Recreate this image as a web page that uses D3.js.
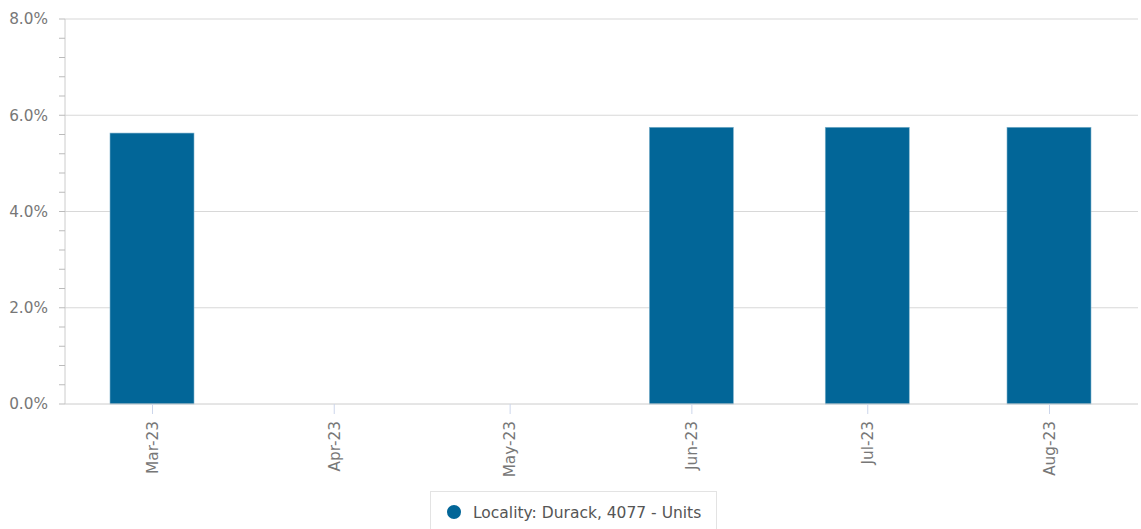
<!DOCTYPE html>
<html><head><meta charset="utf-8">
<script src="https://cdn.jsdelivr.net/npm/d3@7"></script>
<style>body{margin:0;background:#fff;font-family:"DejaVu Sans",sans-serif}</style>
</head><body><svg id="c" width="1141" height="529"></svg>
<script>
const months = ["2023-03-01","2023-04-01","2023-05-01","2023-06-01","2023-07-01","2023-08-01"];
const values = [5.63, null, null, 5.75, 5.75, 5.75];
const yTicks = [0, 2, 4, 6, 8];
const seriesName = "Locality: Durack, 4077 - Units";

const svg = d3.select("#c");
const parse = d3.utcParse("%Y-%m-%d");
const dates = months.map(parse);
const L = 65, R = 1138, T = 19, B = 404;
const x = d3.scaleUtc().domain([parse("2023-03-01"), parse("2023-08-01")]).range([152, 1049]);
const y = d3.scaleLinear().domain([0, 8]).range([B, T]);
const col = "#026698";
const fs = 15.3;

// grid lines
svg.append("g").selectAll("line").data(yTicks.filter(d=>d>0)).join("line")
  .attr("x1", L).attr("x2", R).attr("y1", d=>y(d)).attr("y2", d=>y(d))
  .attr("stroke", "#d8d8d8").attr("stroke-width", 1.2);

// y axis
const yAxis = svg.append("g").attr("transform", `translate(${L},0)`)
  .call(d3.axisLeft(y).tickValues(yTicks).tickSize(0).tickPadding(17).tickFormat(d=>d.toFixed(1)+"%"));
yAxis.select(".domain").attr("stroke", "#ccc").attr("d", `M0,${T}V${B}`);
yAxis.selectAll("text").attr("fill", "#777").attr("font-size", fs).attr("font-family", "DejaVu Sans");
// minor ticks
const minor = d3.range(0, 8.001, 0.4).filter(v => Math.abs(v/2 - Math.round(v/2)) > 1e-6);
svg.append("g").selectAll("line").data(minor).join("line")
  .attr("x1", L-6).attr("x2", L).attr("y1", d=>y(d)).attr("y2", d=>y(d))
  .attr("stroke", "#bbb").attr("stroke-width", 1);
svg.append("g").selectAll("line").data(yTicks).join("line")
  .attr("x1", L-6).attr("x2", L).attr("y1", d=>y(d)).attr("y2", d=>y(d))
  .attr("stroke", "#bbb").attr("stroke-width", 1);

// bars
const bw = 84;
svg.append("g").selectAll("rect").data(dates.map((d,i)=>({d, v: values[i]})).filter(o=>o.v!=null)).join("rect")
  .attr("x", o=>x(o.d)-bw/2).attr("width", bw)
  .attr("y", o=>y(o.v)).attr("height", o=>B - y(o.v))
  .attr("fill", col).attr("stroke", "#7fb2cc").attr("stroke-width", 0.6);

// x axis
const xAxis = svg.append("g").attr("transform", `translate(0,${B})`)
  .call(d3.axisBottom(x).tickValues(dates).tickSize(10).tickPadding(0).tickFormat(d3.utcFormat("%b-%y")));
xAxis.select(".domain").attr("stroke", "#ccc").attr("d", `M${L},0H${R}`);
xAxis.selectAll(".tick line").attr("stroke", "#ccd6eb");
xAxis.selectAll("text").attr("fill", "#777").attr("font-size", fs).attr("font-family", "DejaVu Sans")
  .attr("transform", "rotate(-90)").attr("text-anchor", "end").attr("dy", "0.35em").attr("x", -17).attr("y", 0);

// legend
const lg = svg.append("g");
lg.append("rect").attr("x", 430.5).attr("y", 491.5).attr("width", 286).attr("height", 45)
  .attr("fill", "#fff").attr("stroke", "#e3e3e3");
lg.append("circle").attr("cx", 454).attr("cy", 512).attr("r", 7).attr("fill", col);
lg.append("text").attr("x", 473).attr("y", 518).text(seriesName)
  .attr("fill", "#555").attr("font-size", 15.5).attr("font-family", "DejaVu Sans");
</script></body></html>
